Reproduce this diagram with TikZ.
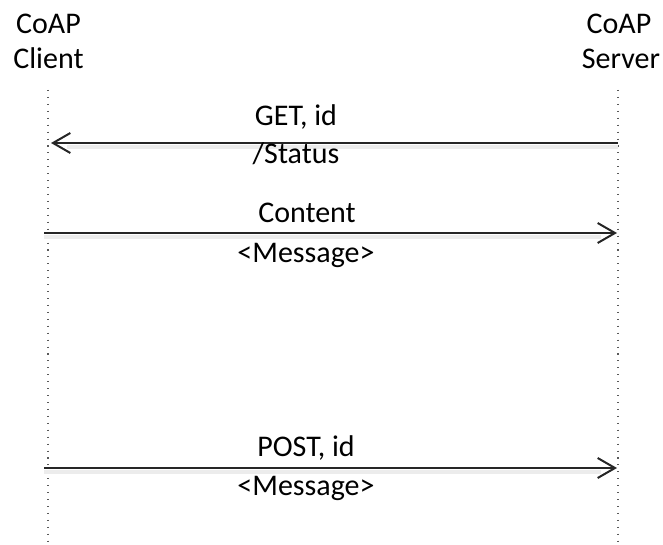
\documentclass[tikz,border=0pt]{standalone}
\usepackage{fontspec}
\setmainfont{Carlito}
\usetikzlibrary{arrows.meta}
\begin{document}
\begin{tikzpicture}[x=0.75pt,y=-0.75pt,
 lbl/.style={font=\fontsize{22.5}{26}\selectfont, inner sep=0pt, anchor=base},
 life/.style={draw=gray!70!black, line width=0.8pt, dash pattern=on 0.8pt off 4.4pt},
 msg/.style={draw=black!85, line width=1.5pt, -{Straight Barb[length=13pt,width=15pt,line width=1.5pt]}},
 shadowline/.style={draw=gray!15, line width=2.5pt}]
\useasboundingbox (0,0) rectangle (663,545);
% headers
\node[lbl] (ch1) at (48.5,34) {CoAP};
\node[lbl] (ch2) at (48.5,69) {Client};
\node[lbl] (sh1) at (619,34) {CoAP};
\node[lbl] (sh2) at (621,69) {Server};
% lifelines
\coordinate (ltop) at (48,90);
\coordinate (lbot) at (48,545);
\coordinate (rtop) at (618,90);
\coordinate (rbot) at (618,545);
\draw[life] (ltop) -- (lbot);
\draw[life] (rtop) -- (rbot);
% message endpoints
\coordinate (g1) at (618,143);
\coordinate (g2) at (51,143);
\coordinate (c1) at (44,233);
\coordinate (c2) at (617,233);
\coordinate (p1) at (44,468);
\coordinate (p2) at (617,468);
% shadows
\draw[shadowline] ([yshift=-3pt]g1) -- ([yshift=-3pt,xshift=12pt]g2);
\draw[shadowline] ([yshift=-3pt]c1) -- ([yshift=-3pt,xshift=-12pt]c2);
\draw[shadowline] ([yshift=-3pt]p1) -- ([yshift=-3pt,xshift=-12pt]p2);
% messages
\draw[msg] (g1) -- (g2);
\draw[msg] (c1) -- (c2);
\draw[msg] (p1) -- (p2);
% labels
\node[lbl] (gl1) at (296,126) {GET, id};
\node[lbl] (gl2) at (296,164) {/Status};
\node[lbl] (cl1) at (307,223) {Content};
\node[lbl] (cl2) at (306,262) {<Message>};
\node[lbl] (pl1) at (306,456) {POST, id};
\node[lbl] (pl2) at (306,495) {<Message>};
\end{tikzpicture}
\end{document}
